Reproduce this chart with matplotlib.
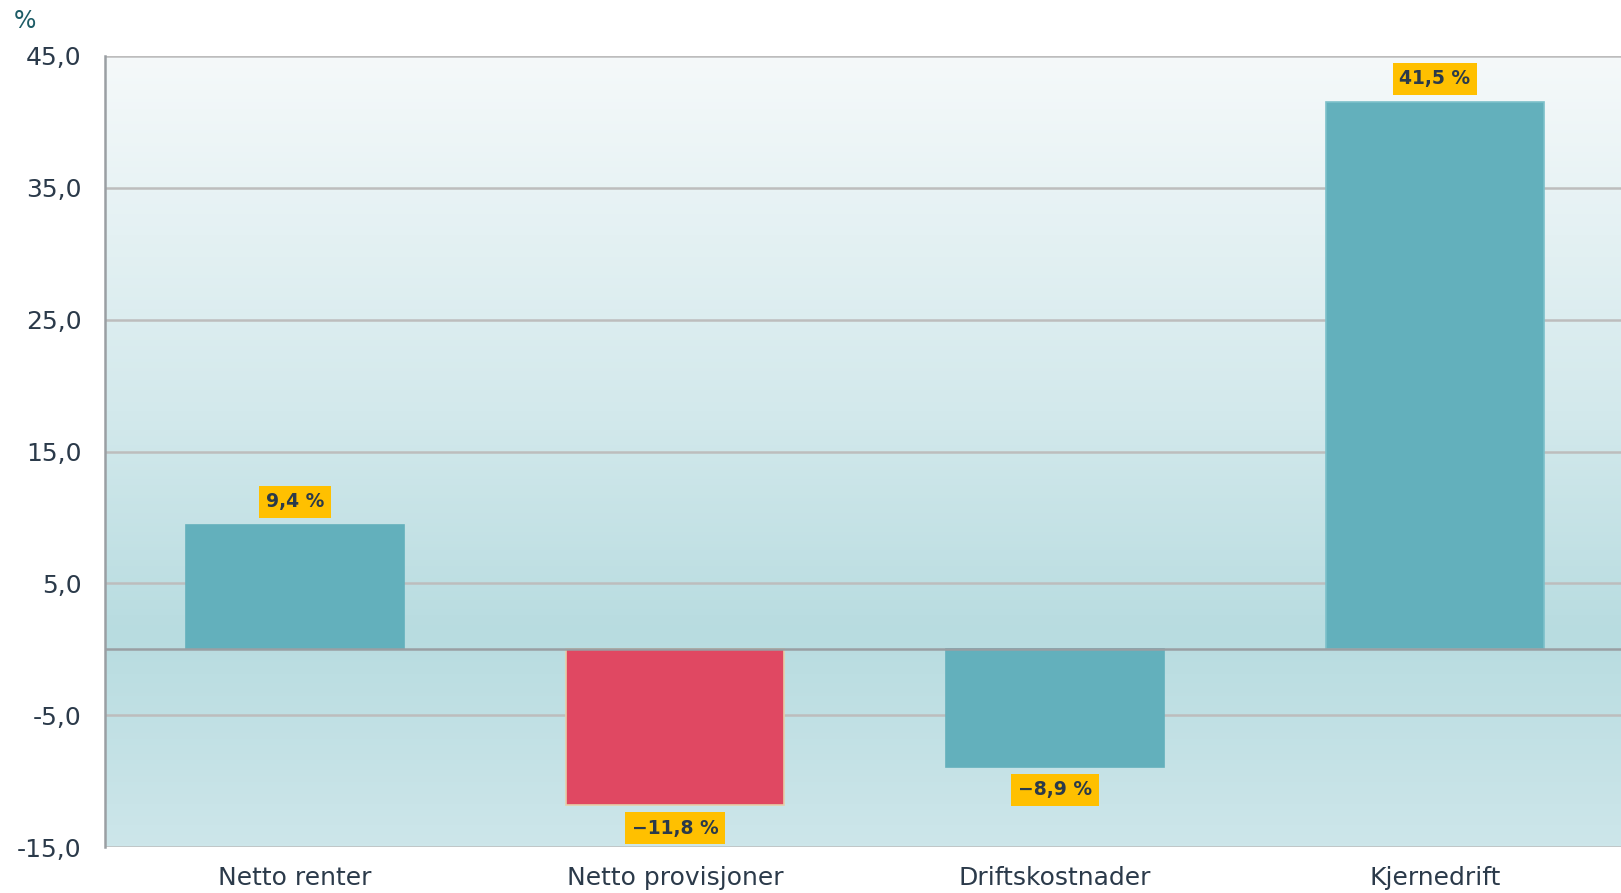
import matplotlib
matplotlib.use("Agg")
import matplotlib.pyplot as plt
import numpy as np
from matplotlib.colors import LinearSegmentedColormap

categories = ["Netto renter", "Netto provisjoner", "Driftskostnader", "Kjernedrift"]
values = [9.4, -11.8, -8.9, 41.5]
bar_colors = ["#63b0bc", "#e04862", "#63b0bc", "#63b0bc"]
edge_colors = ["#63b0bc", "#e6cfa8", "#63b0bc", "#7cc0ca"]
labels = ["9,4 %", "\u221211,8 %", "\u22128,9 %", "41,5 %"]
yticks = [45, 35, 25, 15, 5, -5, -15]
ytick_labels = ["45,0", "35,0", "25,0", "15,0", "5,0", "-5,0", "-15,0"]

plt.rcParams['font.family'] = ['DejaVu Sans']
text_color = "#2b3a4a"

fig = plt.figure(figsize=(16.21, 8.93), dpi=100)
ax = fig.add_axes([105/1621, 1 - 847/893, 1 - 105/1621, (847 - 56)/893])

ax.set_xlim(-0.5, 3.49)
ax.set_ylim(-15, 45)

# gradient background
cmap = LinearSegmentedColormap.from_list("bg", [
    (0.0, "#cde6ea"),
    (0.27, "#b8dce0"),
    (0.55, "#d3e9ec"),
    (1.0, "#f5f9fa"),
])
grad = np.linspace(0, 1, 256).reshape(-1, 1)
ax.imshow(grad, extent=[0, 1, 0, 1], transform=ax.transAxes, cmap=cmap,
          origin="lower", aspect="auto", zorder=0)

for y in yticks:
    ax.axhline(y, color="#bdbdbd", lw=1.8, zorder=1)
ax.axhline(0, color="#9a9fa3", lw=1.8, zorder=3)

x = np.arange(len(categories))
ax.bar(x, values, width=0.575, color=bar_colors, edgecolor=edge_colors,
       linewidth=1.2, zorder=2)

for xi, v, lab in zip(x, values, labels):
    off = 10 if v >= 0 else -10
    ax.annotate(lab, (xi, v), xytext=(0, off), textcoords="offset points",
                ha="center", va="bottom" if v >= 0 else "top",
                fontsize=13.5, fontweight="bold",
                color=text_color, zorder=5,
                bbox=dict(boxstyle="square,pad=0.36", fc="#ffc000", ec="none"))

ax.set_yticks(yticks)
ax.set_yticklabels(ytick_labels, fontsize=18, color=text_color)
ax.set_xticks(x)
ax.set_xticklabels(categories, fontsize=18, color=text_color)
ax.tick_params(axis="y", length=0, pad=17)
ax.tick_params(axis="x", length=0, pad=14)

for s in ["top", "right", "bottom"]:
    ax.spines[s].set_visible(False)
ax.spines["left"].set_color("#9a9fa3")
ax.spines["left"].set_linewidth(1.8)
ax.spines["left"].set_zorder(4)

fig.text(14/1621, 1 - 21/893, "%", fontsize=17, color="#1d5c66", va="center", ha="left")

fig.savefig("out.png", dpi=100)
